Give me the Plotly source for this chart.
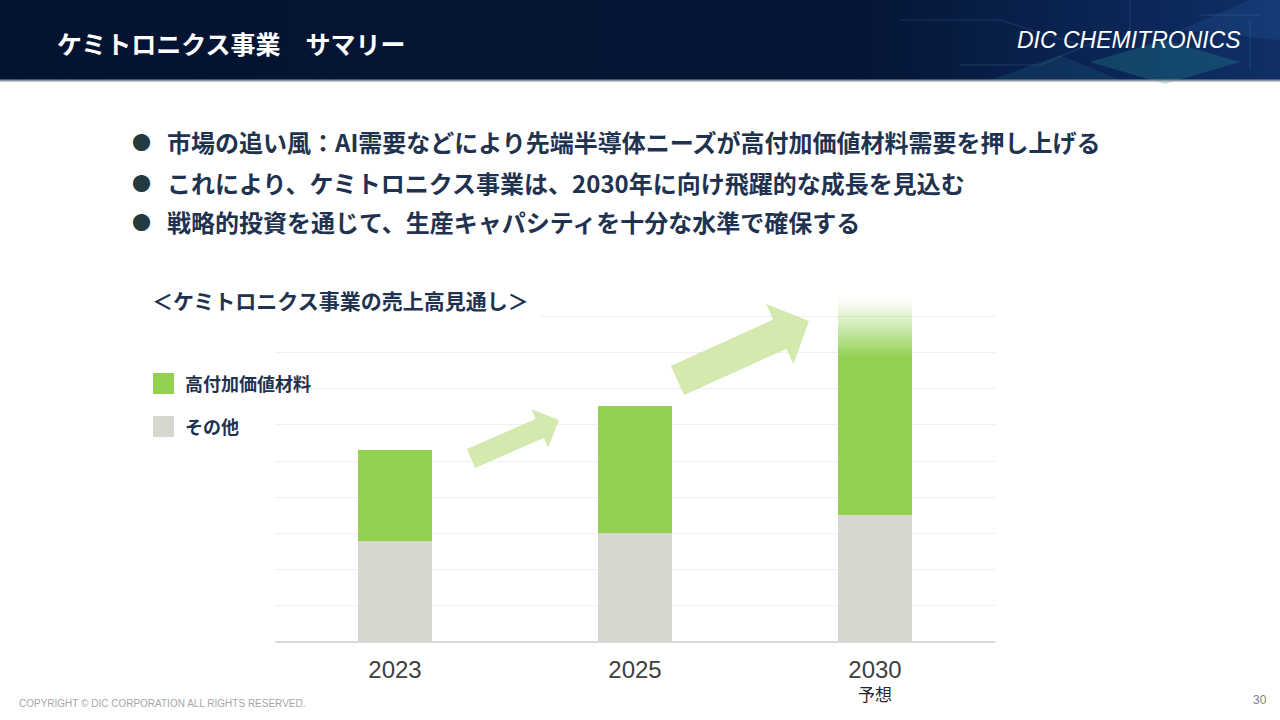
import plotly.graph_objects as go

# ---------------- data ----------------
categories = ["2023", "2025", "2030"]
other_values = [2.79, 3.01, 3.51]          # その他
high_value_values = [2.51, 3.51, 6.02]     # 高付加価値材料
forecast_label = "予想"
series_names = ["高付加価値材料", "その他"]
y_ticks = list(range(0, 11))

title_text = "ケミトロニクス事業　サマリー"
brand_text = "DIC CHEMITRONICS"
bullets = [
    "市場の追い風：AI需要などにより先端半導体ニーズが高付加価値材料需要を押し上げる",
    "これにより、ケミトロニクス事業は、2030年に向け飛躍的な成長を見込む",
    "戦略的投資を通じて、生産キャパシティを十分な水準で確保する",
]
chart_title = "＜ケミトロニクス事業の売上高見通し＞"
copyright_text = "COPYRIGHT © DIC CORPORATION ALL RIGHTS RESERVED."
page_no = "30"

# ---------------- style ----------------
W, H = 1280, 720
GREEN = "#92d050"
GRAY = "#d7d7cf"
ARROW = "#d3e9ad"
NAVY = "#1f3350"
JP = "Noto Sans CJK JP"
LAT = "Liberation Sans"
FADE_HEIGHT = 1.68   # top part of the forecast bar drawn as a fade
FADE_STEPS = 28
BAR_W = 0.312

# plot area in pixels
PL, PR, PT, PB = 275, 995, 280, 642

fig = go.Figure()

# --- header background (pixel axes x2/y2) ---
fig.add_trace(go.Scatter(
    x=[0, W, W, 0, 0], y=[0, 0, 80, 80, 0], mode="lines", fill="toself",
    line=dict(width=0), xaxis="x2", yaxis="y2", hoverinfo="skip", showlegend=False,
    fillgradient=dict(type="horizontal",
                      colorscale=[[0, "#041330"], [0.68, "#051636"], [0.85, "#0a2452"], [1, "#0f2f66"]]),
))
# faint circuit decoration
deco_polys = [
    ([1090, 1165, 1240, 1165, 1090], [62, 40, 62, 84, 62], "rgba(40,150,150,0.28)"),
    ([990, 1060, 1120, 1040, 990], [80, 55, 80, 80, 80], "rgba(40,130,150,0.18)"),
    ([1180, 1250, 1280, 1280, 1180], [30, 0, 0, 40, 30], "rgba(60,120,200,0.15)"),
]
for xs, ys, col in deco_polys:
    fig.add_trace(go.Scatter(
        x=xs, y=ys, mode="lines", fill="toself", fillcolor=col,
        line=dict(width=0), xaxis="x2", yaxis="y2", hoverinfo="skip", showlegend=False,
    ))
for xs, ys in [([900, 1000, 1080], [20, 20, 45]), ([1130, 1130], [0, 40]), ([1200, 1260], [15, 15]),
               ([960, 1040, 1100], [65, 65, 40]), ([1250, 1250], [20, 70])]:
    fig.add_trace(go.Scatter(x=xs, y=ys, mode="lines", line=dict(color="rgba(90,140,210,0.25)", width=1),
                             xaxis="x2", yaxis="y2", hoverinfo="skip", showlegend=False))
# header bottom line
fig.add_trace(go.Scatter(x=[0, W], y=[80.5, 80.5], mode="lines", line=dict(color="#8b95a3", width=2),
                         xaxis="x2", yaxis="y2", hoverinfo="skip", showlegend=False))

# --- bars ---
solid_green = [h - (FADE_HEIGHT if c == categories[-1] else 0) for c, h in zip(categories, high_value_values)]

fig.add_trace(go.Bar(x=categories, y=other_values, base=[0] * len(categories),
                     marker=dict(color=GRAY, line=dict(width=0)),
                     width=BAR_W, name=series_names[1], showlegend=False))
fig.add_trace(go.Bar(x=categories, y=solid_green, base=other_values,
                     marker=dict(color=GREEN, line=dict(width=0)),
                     width=BAR_W, name=series_names[0], showlegend=False))

fade_start = other_values[-1] + solid_green[-1]
step = FADE_HEIGHT / FADE_STEPS
fade_bases, fade_colors = [], []
for i in range(FADE_STEPS):
    t = (i + 0.5) / FADE_STEPS
    a = max(0.0, 1 - t) ** 1.15
    fade_bases.append(fade_start + i * step)
    fade_colors.append(f"rgba(146,208,80,{a:.3f})")
fig.add_trace(go.Bar(x=[categories[-1]] * FADE_STEPS, y=[step] * FADE_STEPS, base=fade_bases,
                     marker=dict(color=fade_colors, line=dict(width=0)), width=BAR_W,
                     showlegend=False, hoverinfo="skip"))

# --- shapes ---
shapes = []
# white box behind chart title covering gridlines
shapes.append(dict(type="rect", xref="x2", yref="y2", x0=PL - 4, x1=540, y0=274, y1=322,
                   fillcolor="white", line=dict(width=0), layer="above"))


def arrow_path(tail, tip, sw, hw, hl):
    dx, dy = tip[0] - tail[0], tip[1] - tail[1]
    L = (dx * dx + dy * dy) ** 0.5
    ux, uy = dx / L, dy / L
    nx, ny = -uy, ux
    bx, by = tip[0] - ux * hl, tip[1] - uy * hl
    pts = [
        (tail[0] + nx * sw, tail[1] + ny * sw),
        (bx + nx * sw, by + ny * sw),
        (bx + nx * hw, by + ny * hw),
        tip,
        (bx - nx * hw, by - ny * hw),
        (bx - nx * sw, by - ny * sw),
        (tail[0] - nx * sw, tail[1] - ny * sw),
    ]
    return "M " + " L ".join(f"{x:.1f},{y:.1f}" for x, y in pts) + " Z"


shapes.append(dict(type="path", xref="x2", yref="y2", path=arrow_path((471, 458.5), (559, 420), 10.3, 21, 21),
                   fillcolor=ARROW, line=dict(width=0), layer="above"))
shapes.append(dict(type="path", xref="x2", yref="y2", path=arrow_path((677.5, 380.5), (809, 321), 16, 33, 32),
                   fillcolor=ARROW, line=dict(width=0), layer="above"))
# legend squares
shapes.append(dict(type="rect", xref="x2", yref="y2", x0=153, x1=174, y0=373, y1=394, fillcolor=GREEN,
                   line=dict(width=0)))
shapes.append(dict(type="rect", xref="x2", yref="y2", x0=153, x1=174, y0=416, y1=437, fillcolor=GRAY,
                   line=dict(width=0)))

# --- annotations ---
ann = []


def txt(x, y, s, size, color, family=JP, weight="normal", xanchor="left", style="normal", xref="x2", yref="y2"):
    ann.append(dict(x=x, y=y, xref=xref, yref=yref, text=s, showarrow=False, xanchor=xanchor, yanchor="middle",
                    font=dict(family=family, size=size, color=color, weight=weight, style=style)))


txt(55, 43, title_text, 25, "white", weight="bold")
txt(1243, 40, brand_text, 23, "white", family=LAT, xanchor="right", style="italic")
for s, yy in zip(bullets, [141, 182, 221]):
    txt(141, yy, "●", 19, "#223a40", xanchor="center")
    txt(165, yy, s, 24, NAVY, weight="bold")
txt(150, 300, chart_title, 21, NAVY, weight="bold")
txt(183, 383, series_names[0], 18, NAVY, weight="bold")
txt(183, 426, series_names[1], 18, NAVY, weight="bold")
# forecast note under the last category (category index on the x axis)
txt(len(categories) - 1, 693, forecast_label, 17, "#262626", xanchor="center", xref="x")
txt(17, 703, copyright_text, 10, "#a6a6a6", family=LAT)
txt(1269, 700, page_no, 12, "#808080", family=LAT, xanchor="right")

fig.update_layout(
    width=W, height=H, margin=dict(l=0, r=0, t=0, b=0),
    paper_bgcolor="white", plot_bgcolor="rgba(0,0,0,0)",
    barmode="overlay", bargap=0, showlegend=False,
    shapes=shapes, annotations=ann,
    xaxis=dict(domain=[PL / W, PR / W], type="category", categoryorder="array", categoryarray=categories,
               range=[-0.5, len(categories) - 0.5], showgrid=False, zeroline=False, showline=False,
               ticks="", tickfont=dict(family=LAT, size=24, color="#404040"), ticklabelstandoff=11,
               fixedrange=True),
    yaxis=dict(domain=[(H - PB) / H, (H - PT) / H], range=[0, 10], tickvals=y_ticks, showticklabels=False,
               showgrid=True, gridcolor="#efefef", gridwidth=1, zeroline=True, zerolinecolor="#d9d9d9",
               zerolinewidth=2, ticks="", fixedrange=True),
    xaxis2=dict(domain=[0, 1], range=[0, W], visible=False, anchor="y2", fixedrange=True),
    yaxis2=dict(domain=[0, 1], range=[H, 0], visible=False, anchor="x2", fixedrange=True),
)

fig.write_html("out.html", config={"displayModeBar": False},
               post_script="document.body.style.margin='0';document.body.style.overflow='hidden';")
